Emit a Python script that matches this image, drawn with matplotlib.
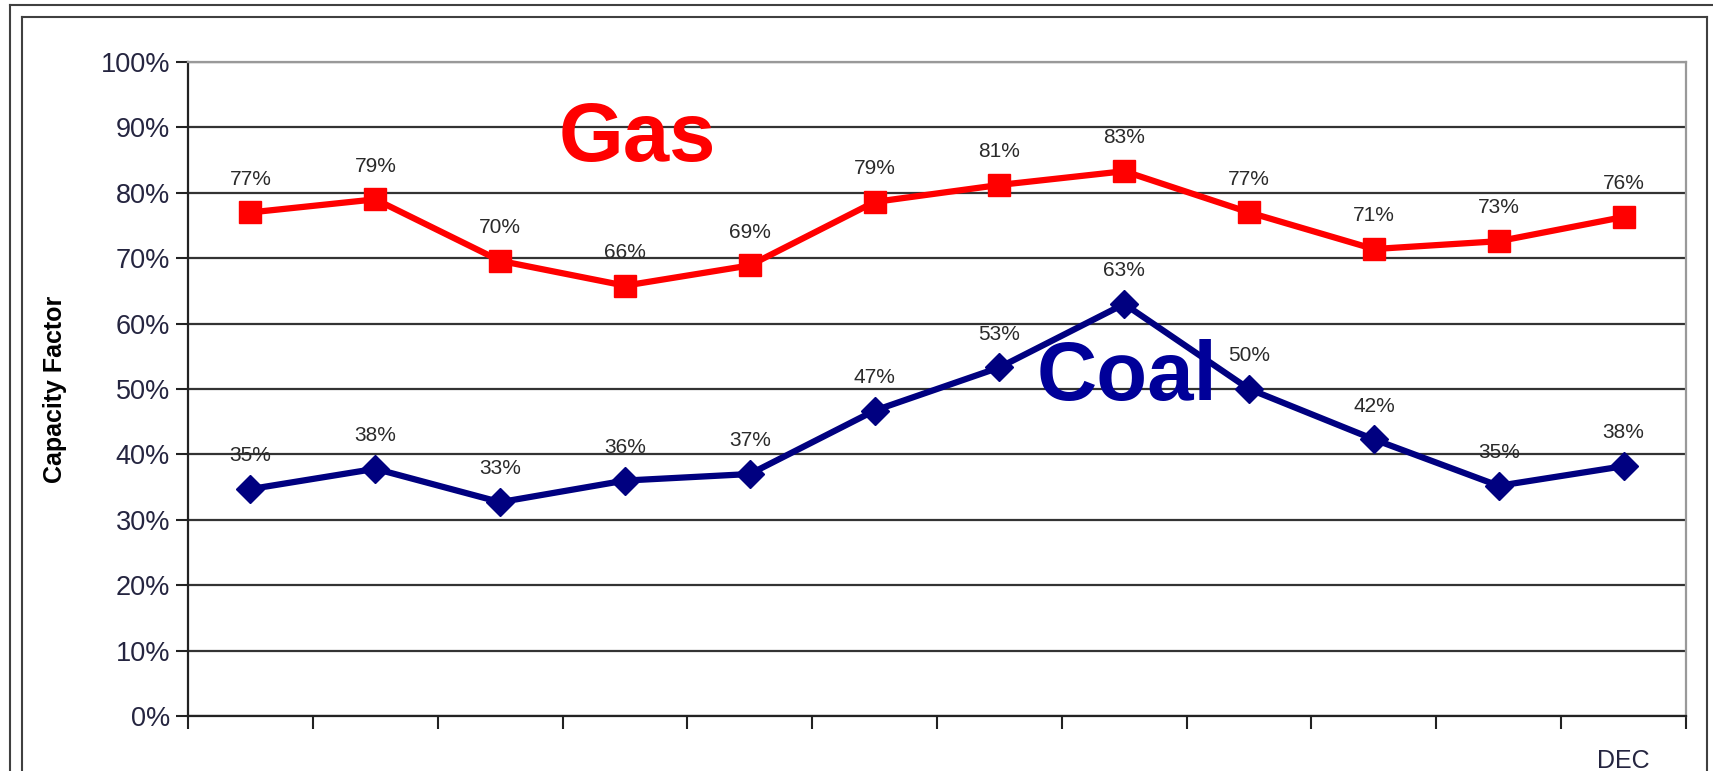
import matplotlib.pyplot as plt
from matplotlib.lines import Line2D
from matplotlib.ticker import FuncFormatter, MultipleLocator

plt.rcParams['font.family'] = ['Liberation Sans', 'DejaVu Sans']

# monthly capacity factors (%)
gas = [77.0, 79.0, 69.6, 65.8, 68.9, 78.6, 81.2, 83.3, 77.0, 71.4, 72.6, 76.3]
coal = [34.7, 37.8, 32.7, 36.0, 37.0, 46.7, 53.3, 63.0, 50.0, 42.3, 35.2, 38.2]
month_labels = ['', '', '', '', '', '', '', '', '', '', '', 'DEC']

x = list(range(len(gas)))

fig = plt.figure(figsize=(17.13, 7.71), dpi=100)
ax = fig.add_axes([0.1098, 0.0713, 0.8744, 0.8483])

# double frame around the chart area
frame = '#404040'
W, H = 1713, 771
def fline(xs, ys):
    fig.add_artist(Line2D([v / W for v in xs], [1 - v / H for v in ys],
                          transform=fig.transFigure, color=frame, lw=1.5))
fline([10, 1713], [5, 5])
fline([10, 10], [5, 771])
fline([22, 1707], [17, 17])
fline([22, 22], [17, 771])
fline([1707, 1707], [17, 771])

ax.plot(x, gas, color='#ff0000', lw=4.5, marker='s', markersize=16, zorder=3)
ax.plot(x, coal, color='#000080', lw=4.5, marker='D', markersize=14, zorder=3)

for xi, v in zip(x, gas):
    ax.annotate(f'{v:.0f}%', (xi, v), xytext=(0, 24), textcoords='offset points',
                ha='center', va='center', fontsize=15, color='#2a2a2a')
for xi, v in zip(x, coal):
    ax.annotate(f'{v:.0f}%', (xi, v), xytext=(0, 24), textcoords='offset points',
                ha='center', va='center', fontsize=15, color='#2a2a2a')

ax.text(3.1, 84.9, 'Gas', color='#ff0000', fontsize=60, fontweight='bold',
        ha='center', va='baseline', zorder=4)
ax.text(7.02, 48.3, 'Coal', color='#000099', fontsize=60, fontweight='bold',
        ha='center', va='baseline', zorder=4)

ax.set_xlim(-0.5, len(x) - 0.5)
ax.set_ylim(0, 100)
ax.yaxis.set_major_locator(MultipleLocator(10))
ax.yaxis.set_major_formatter(FuncFormatter(lambda v, p: f'{v:.0f}%'))
ax.tick_params(axis='y', length=9, width=1.5, color='#222222', labelsize=19.5,
               labelcolor='#252540', pad=4)
ax.grid(axis='y', color='#333333', lw=1.6, zorder=1)

# ticks sit between months, labels under the month centres
ax.set_xticks([i - 0.5 for i in range(len(x) + 1)])
ax.set_xticklabels([])
ax.set_xticks(x, minor=True)
ax.set_xticklabels(month_labels, minor=True)
ax.tick_params(axis='x', which='major', length=9, width=1.5, color='#222222')
ax.tick_params(axis='x', which='minor', length=0, labelsize=18,
               labelcolor='#252540', pad=24)

ax.set_ylabel('Capacity Factor', fontsize=18, fontweight='bold', labelpad=24)

for side in ['left', 'bottom']:
    ax.spines[side].set_color('#222222')
    ax.spines[side].set_linewidth(1.6)
for side in ['top', 'right']:
    ax.spines[side].set_color('#999999')
    ax.spines[side].set_linewidth(1.6)

fig.savefig('out.png', dpi=100)
